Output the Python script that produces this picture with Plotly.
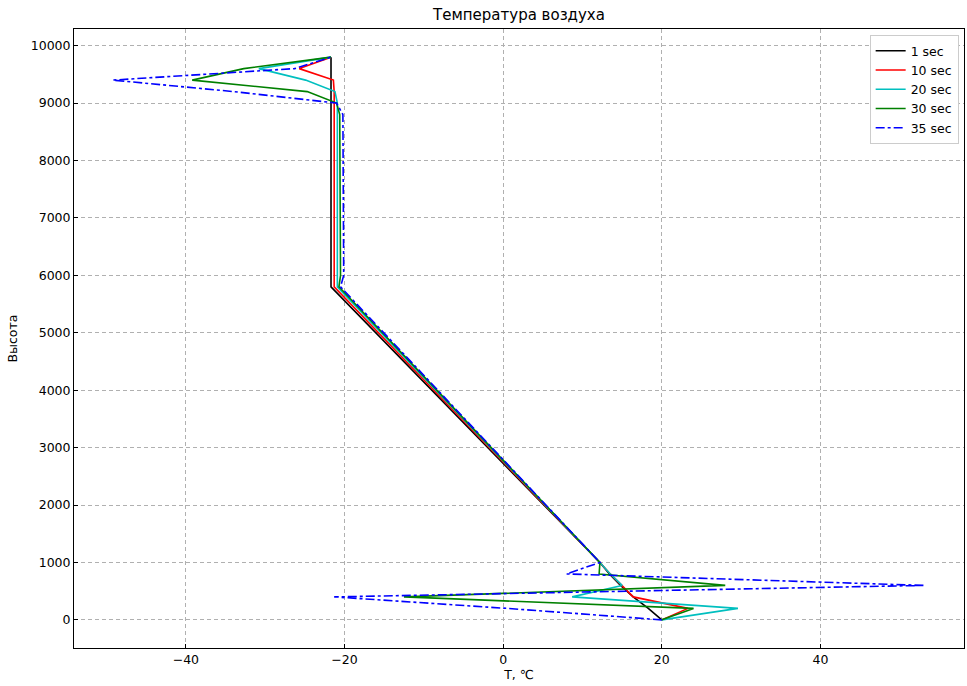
import plotly.graph_objects as go

# Heights (m) at which the profiles change direction
heights = [0, 200, 400, 600, 800, 1000, 5800, 6000, 8800, 9000, 9200, 9400, 9600, 9800]

# Temperature (°C) per time step
t_1s = [20.0, 18.3, 16.4, 14.8, 13.4, 12.2, -21.7, -21.7, -21.7, -21.7, -21.7, -21.7, -21.7, -21.7]
t_10s = [20.0, 23.3, 16.4, 14.9, 13.5, 12.2, -21.3, -21.3, -21.3, -21.3, -21.3, -21.4, -25.7, -21.7]
t_20s = [20.0, 29.6, 8.7, 15.0, 13.5, 12.2, -20.9, -20.9, -20.9, -20.9, -21.2, -24.9, -30.8, -21.7]
t_30s = [20.0, 24.0, -12.5, 28.0, 12.1, 12.2, -20.7, -20.5, -20.6, -21.0, -24.7, -39.2, -32.7, -21.7]
t_35s = [20.0, 0.5, -21.3, 53.0, 8.0, 12.2, -20.5, -20.1, -20.2, -21.0, -34.0, -49.2, -26.3, -21.7]

series_names = ["1 sec", "10 sec", "20 sec", "30 sec", "35 sec"]
series_vals = [t_1s, t_10s, t_20s, t_30s, t_35s]
colors = ["#000000", "#ff0000", "#00bfbf", "#008000", "#0000ff"]
dashes = ["solid", "solid", "solid", "solid", "dashdot"]

x_ticks = [-40, -20, 0, 20, 40]
x_tick_text = ["\u221240", "\u221220", "0", "20", "40"]
y_ticks = list(range(0, 10001, 1000))
y_tick_text = [str(v) for v in y_ticks]

fig = go.Figure()
for name, vals, c, d in zip(series_names, series_vals, colors, dashes):
    fig.add_trace(go.Scatter(x=vals, y=heights, mode="lines", name=name,
                             line=dict(color=c, width=1.6, dash=d)))

axis_common = dict(showline=True, linecolor="black", linewidth=1, mirror=True,
                   showgrid=True, gridcolor="#b0b0b0", griddash="4px,3px", gridwidth=0.8,
                   zeroline=False, ticks="inside", ticklen=4, tickcolor="black",
                   tickfont=dict(size=12.5, color="black"))

fig.update_layout(
    width=967, height=686,
    margin=dict(l=74, r=3, t=29, b=38),
    paper_bgcolor="white", plot_bgcolor="white",
    font=dict(family="DejaVu Sans", color="black"),
    title=dict(text="Температура воздуха", x=0.5, xanchor="center", y=0.978, yanchor="middle",
               xref="paper", font=dict(size=15, color="black")),
    xaxis=dict(range=[-54.1, 58.1], tickvals=x_ticks, ticktext=x_tick_text,
               title=dict(text="T, \u2103", font=dict(size=12.5), standoff=4), **axis_common),
    yaxis=dict(range=[-490, 10290], tickvals=y_ticks, ticktext=y_tick_text,
               title=dict(text="Высота", font=dict(size=12.5), standoff=10), **axis_common),
    legend=dict(x=0.994, y=0.99, xanchor="right", yanchor="top",
                bgcolor="white", bordercolor="#cccccc", borderwidth=1,
                font=dict(size=12.5), tracegroupgap=0, itemwidth=30),
    showlegend=True,
)

fig.write_html("out.html")
